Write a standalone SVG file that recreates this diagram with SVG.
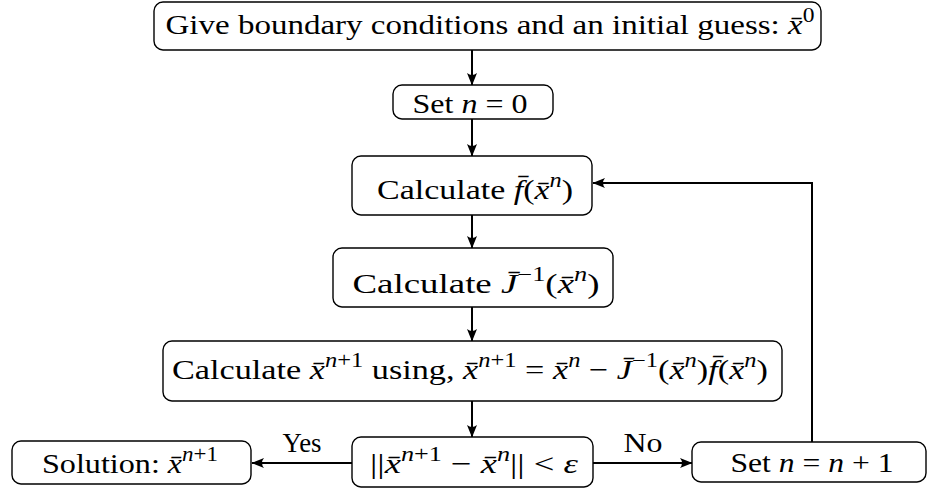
<svg xmlns="http://www.w3.org/2000/svg" width="927" height="490" viewBox="0 0 927 490">
<defs>
<marker id="arr" viewBox="0 0 13 11" refX="12" refY="5.5" markerWidth="13" markerHeight="11" markerUnits="userSpaceOnUse" orient="auto">
<path d="M0,0.5 L12.5,5.5 L0,10.5 Q4,5.5 0,0.5 Z" fill="#000"/>
</marker>
<style>
.box{fill:#fff;stroke:#000;stroke-width:1.4}
.t{font-family:"Liberation Serif","Times New Roman",serif;font-size:28px;fill:#000;text-anchor:middle}
.m{font-style:italic}
.s{font-size:20px}
.c{fill:none;stroke:#000;stroke-width:2}
</style>
</defs>
<rect width="927" height="490" fill="#fff"/>
<g id="connectors">
<line class="c" x1="472" y1="50" x2="472" y2="85" marker-end="url(#arr)"/>
<line class="c" x1="472" y1="119" x2="472" y2="156" marker-end="url(#arr)"/>
<line class="c" x1="472" y1="215" x2="472" y2="248" marker-end="url(#arr)"/>
<line class="c" x1="472" y1="307" x2="472" y2="341" marker-end="url(#arr)"/>
<line class="c" x1="472" y1="401" x2="472" y2="437" marker-end="url(#arr)"/>
<line class="c" x1="352" y1="463" x2="252" y2="463" marker-end="url(#arr)"/>
<line class="c" x1="593" y1="463" x2="692" y2="463" marker-end="url(#arr)"/>
<polyline class="c" points="812,442 812,183 593,183" marker-end="url(#arr)"/>
<text class="t" x="302" y="452" textLength="39" lengthAdjust="spacingAndGlyphs">Yes</text>
<text class="t" x="643" y="452" textLength="39" lengthAdjust="spacingAndGlyphs">No</text>
</g>
<g id="n1">
<rect class="box" x="154" y="2" width="667" height="48" rx="9"/>
<text class="t" x="490" y="34" textLength="649" lengthAdjust="spacingAndGlyphs">Give boundary conditions and an initial guess: <tspan class="m">x̄</tspan><tspan class="s" dy="-12">0</tspan></text>
</g>
<g id="n2">
<rect class="box" x="393" y="85" width="160" height="34" rx="9"/>
<text class="t" x="470" y="113" textLength="115" lengthAdjust="spacingAndGlyphs">Set <tspan class="m">n</tspan> = 0</text>
</g>
<g id="n3">
<rect class="box" x="352" y="156" width="240" height="59" rx="9"/>
<text class="t" x="475" y="199" textLength="196" lengthAdjust="spacingAndGlyphs">Calculate <tspan class="m">f̄</tspan>(<tspan class="m">x̄</tspan><tspan class="s m" dy="-12">n</tspan><tspan dy="12">)</tspan></text>
</g>
<g id="n4">
<rect class="box" x="333" y="248" width="280" height="59" rx="9"/>
<text class="t" x="476" y="293" textLength="247" lengthAdjust="spacingAndGlyphs">Calculate <tspan class="m">J̄</tspan><tspan class="s" dy="-12">−1</tspan><tspan dy="12">(</tspan><tspan class="m">x̄</tspan><tspan class="s m" dy="-12">n</tspan><tspan dy="12">)</tspan></text>
</g>
<g id="n5">
<rect class="box" x="163" y="341" width="619" height="60" rx="9"/>
<text class="t" x="470" y="379" textLength="596" lengthAdjust="spacingAndGlyphs">Calculate <tspan class="m">x̄</tspan><tspan class="s" dy="-12"><tspan class="m">n</tspan>+1</tspan><tspan dy="12"> using, </tspan><tspan class="m">x̄</tspan><tspan class="s" dy="-12"><tspan class="m">n</tspan>+1</tspan><tspan dy="12"> = </tspan><tspan class="m">x̄</tspan><tspan class="s m" dy="-12">n</tspan><tspan dy="12"> − </tspan><tspan class="m">J̄</tspan><tspan class="s" dy="-12">−1</tspan><tspan dy="12">(</tspan><tspan class="m">x̄</tspan><tspan class="s m" dy="-12">n</tspan><tspan dy="12">)</tspan><tspan class="m">f̄</tspan>(<tspan class="m">x̄</tspan><tspan class="s m" dy="-12">n</tspan><tspan dy="12">)</tspan></text>
</g>
<g id="n6">
<rect class="box" x="352" y="437" width="241" height="50" rx="9"/>
<text class="t" x="474" y="473" textLength="208" lengthAdjust="spacingAndGlyphs">||<tspan class="m">x̄</tspan><tspan class="s" dy="-12"><tspan class="m">n</tspan>+1</tspan><tspan dy="12"> − </tspan><tspan class="m">x̄</tspan><tspan class="s m" dy="-12">n</tspan><tspan dy="12">|| &lt; </tspan><tspan class="m">ε</tspan></text>
</g>
<g id="n7">
<rect class="box" x="12" y="441" width="239" height="43" rx="9"/>
<text class="t" x="130" y="473" textLength="176" lengthAdjust="spacingAndGlyphs">Solution: <tspan class="m">x̄</tspan><tspan class="s" dy="-12"><tspan class="m">n</tspan>+1</tspan></text>
</g>
<g id="n8">
<rect class="box" x="692" y="442" width="234" height="40" rx="9"/>
<text class="t" x="812" y="472" textLength="163" lengthAdjust="spacingAndGlyphs">Set <tspan class="m">n</tspan> = <tspan class="m">n</tspan> + 1</text>
</g>
</svg>
